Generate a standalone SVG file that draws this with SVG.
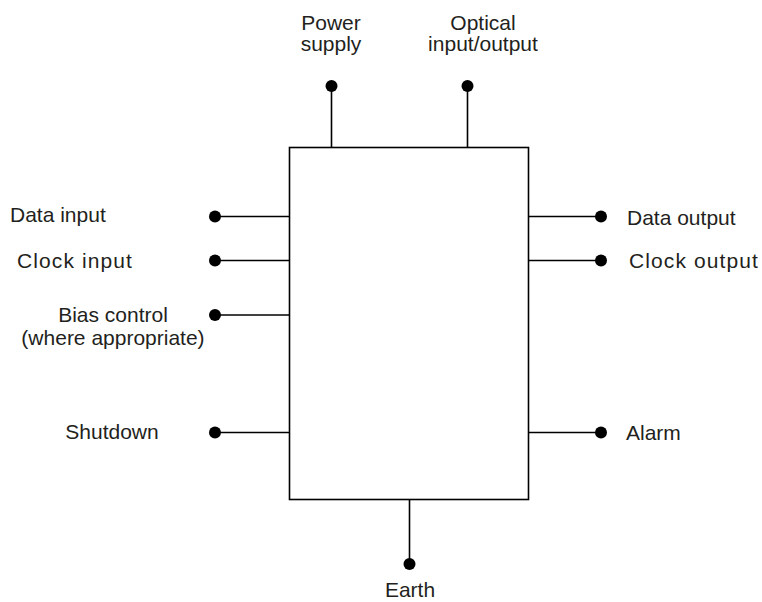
<svg xmlns="http://www.w3.org/2000/svg" width="762" height="602" viewBox="0 0 762 602">
<style>
text{font-family:"Liberation Sans",Arial,sans-serif;font-size:21px;fill:#231f20}
.ls{letter-spacing:1.1px}
.ln{stroke:#000;stroke-width:1.6;fill:none}
.dot{fill:#000}
</style>
<rect width="762" height="602" fill="#fff"/>
<g id="connectors">
<line class="ln" x1="331.5" y1="86" x2="331.5" y2="148"/>
<line class="ln" x1="467.5" y1="86" x2="467.5" y2="148"/>
<line class="ln" x1="215" y1="216.5" x2="289" y2="216.5"/>
<line class="ln" x1="215" y1="260.5" x2="289" y2="260.5"/>
<line class="ln" x1="215" y1="315" x2="289" y2="315"/>
<line class="ln" x1="215" y1="432.5" x2="289" y2="432.5"/>
<line class="ln" x1="529" y1="216.5" x2="601" y2="216.5"/>
<line class="ln" x1="529" y1="260.5" x2="601" y2="260.5"/>
<line class="ln" x1="529" y1="432.5" x2="601" y2="432.5"/>
<line class="ln" x1="409.5" y1="500" x2="409.5" y2="564"/>
</g>
<g id="module"><rect class="ln" x="289.5" y="147.5" width="239" height="352"/></g>
<g id="power"><circle class="dot" cx="331.5" cy="86" r="6"/><text x="331" y="30" text-anchor="middle">Power</text><text x="331" y="51" text-anchor="middle">supply</text></g>
<g id="optical"><circle class="dot" cx="467.5" cy="86" r="6"/><text x="483" y="30" text-anchor="middle">Optical</text><text x="483" y="51" text-anchor="middle">input/output</text></g>
<g id="data-input"><circle class="dot" cx="215" cy="216.5" r="6"/><text x="10" y="222">Data input</text></g>
<g id="clock-input"><circle class="dot" cx="215" cy="260.5" r="6"/><text class="ls" x="17" y="268">Clock input</text></g>
<g id="bias"><circle class="dot" cx="215" cy="315" r="6"/><text x="113" y="322" text-anchor="middle">Bias control</text><text x="113" y="345" text-anchor="middle">(where appropriate)</text></g>
<g id="shutdown"><circle class="dot" cx="215" cy="432.5" r="6"/><text x="112" y="439" text-anchor="middle">Shutdown</text></g>
<g id="data-output"><circle class="dot" cx="601" cy="216.5" r="6"/><text x="627" y="225">Data output</text></g>
<g id="clock-output"><circle class="dot" cx="601" cy="260.5" r="6"/><text class="ls" x="629" y="268">Clock output</text></g>
<g id="alarm"><circle class="dot" cx="601" cy="432.5" r="6"/><text x="626" y="440">Alarm</text></g>
<g id="earth"><circle class="dot" cx="409.5" cy="564" r="6"/><text x="410" y="597" text-anchor="middle">Earth</text></g>
</svg>
